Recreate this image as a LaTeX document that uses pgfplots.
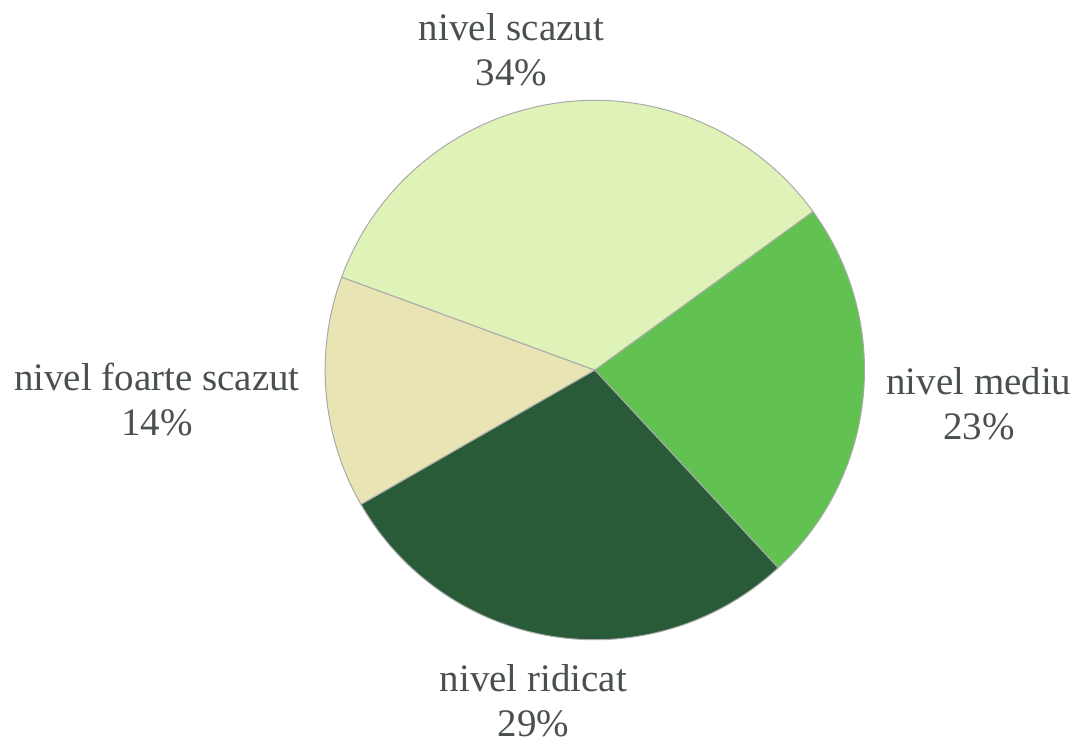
\documentclass[border=0pt]{standalone}
\usepackage{pgfplots}
\pgfplotsset{compat=1.18}
\usepackage{fontspec}
\setmainfont{Liberation Serif}
\definecolor{cScazut}{HTML}{DFF2B8}
\definecolor{cMediu}{HTML}{62C251}
\definecolor{cRidicat}{HTML}{295B39}
\definecolor{cFoarte}{HTML}{E9E4B4}
\definecolor{txt}{HTML}{4A4F4F}
\definecolor{edge}{HTML}{AAAAAA}
\begin{document}
\begin{tikzpicture}
\begin{axis}[
  scale only axis, width=539pt, height=369.5pt,
  xmin=0, xmax=1078, ymin=0, ymax=739, y dir=reverse,
  hide axis, clip=false,
]
\path (rel axis cs:0,0) rectangle (rel axis cs:1,1);
% slices, clockwise from 36 degrees: value (percent), colour
\gdef\start{36}
\foreach \val/\col in {23.1/cMediu, 28.6/cRidicat, 13.9/cFoarte, 34.4/cScazut}{
  \pgfmathsetmacro{\ea}{\start-3.6*\val}
  \edef\tmp{\noexpand\fill[\col, draw=edge, line width=0.5pt] (axis cs:595.5,370.5) -- ++(\start:135pt) arc[start angle=\start, end angle=\ea, radius=135pt] -- cycle;}
  \tmp
  \xdef\start{\ea}
}
\begin{scope}[every node/.style={align=center, text=txt, font=\fontsize{19.5}{22.5}\selectfont}]
\node at (axis cs:512,50) {nivel scazut\\34\%};
\node at (axis cs:980,404) {nivel mediu\\23\%};
\node at (axis cs:534,702) {nivel ridicat\\29\%};
\node at (axis cs:157,400) {nivel foarte scazut\\14\%};
\end{scope}
\end{axis}
\end{tikzpicture}
\end{document}
